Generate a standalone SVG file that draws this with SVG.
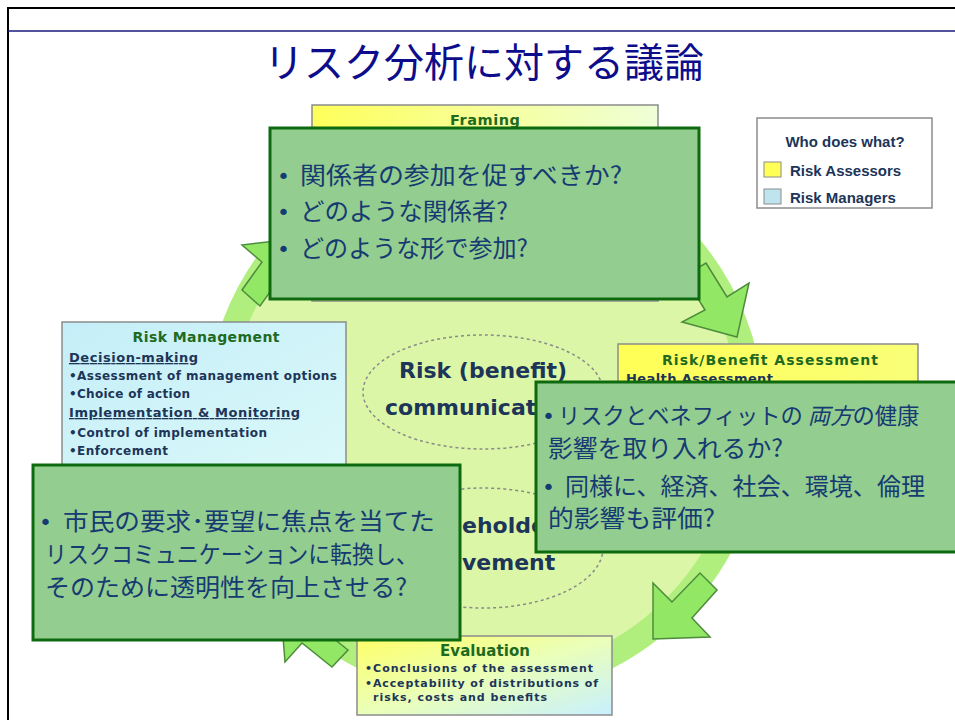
<svg xmlns="http://www.w3.org/2000/svg" width="955" height="720" viewBox="0 0 955 720">
<defs>
<linearGradient id="gFrame" x1="0" y1="0" x2="1" y2="0"><stop offset="0" stop-color="#ffff5a"/><stop offset="1" stop-color="#eeffd8"/></linearGradient>
<linearGradient id="gRBA" x1="0" y1="0" x2="1" y2="0"><stop offset="0" stop-color="#ffff55"/><stop offset="1" stop-color="#f9ff78"/></linearGradient>
<linearGradient id="gEval" x1="0" y1="0" x2="1" y2="1"><stop offset="0" stop-color="#ffff66"/><stop offset="0.5" stop-color="#eaffb8"/><stop offset="1" stop-color="#c8f0ff"/></linearGradient>
<linearGradient id="gRM" x1="0" y1="0" x2="1" y2="1"><stop offset="0" stop-color="#c4eef8"/><stop offset="1" stop-color="#dcf9f9"/></linearGradient>
<style>
.box{stroke:#8c8c8c;stroke-width:1.5}
.q{fill:#93cd8f;stroke:#0e6a0e;stroke-width:3}
.qt{font-family:"Noto Sans CJK JP",sans-serif;font-size:24px;fill:#163a72}
.bu{font-family:"DejaVu Sans",sans-serif;font-size:22px;fill:#163a72}
.hd{font-family:"DejaVu Sans",sans-serif;font-weight:bold;fill:#1e6a1e;text-anchor:middle}
.bt{font-family:"DejaVu Sans",sans-serif;font-weight:bold;fill:#1c3558}
.lg{font-family:"Liberation Sans",Arial,sans-serif;font-weight:bold;font-size:15px;fill:#1c3558}
.arr{fill:#92e865;stroke:#4e8c3c;stroke-width:1.5}
.ell{fill:none;stroke:#8a8a8a;stroke-width:1.5;stroke-dasharray:3 3}
.ct{font-family:"DejaVu Sans",sans-serif;font-weight:bold;font-size:22px;fill:#1c3558}
</style>
</defs>
<rect width="955" height="720" fill="#ffffff"/>
<g id="frame">
<path d="M8 720 V8 H955" fill="none" stroke="#000" stroke-width="2"/>
<path d="M8 31 H955" fill="none" stroke="#1a1a7a" stroke-width="1.5"/>
</g>
<g id="title">
<text x="484" y="77" text-anchor="middle" font-family="Noto Sans CJK JP, sans-serif" font-size="40" fill="#0d0d8c">リスク分析に対する議論</text>
</g>
<g id="ring">
<circle cx="485" cy="419" r="267.5" fill="#dbf6a6" stroke="#b0ef7e" stroke-width="25"/>
</g>
<g id="center">
<ellipse class="ell" cx="483" cy="392" rx="120" ry="57"/>
<ellipse class="ell" cx="483" cy="548" rx="120" ry="60"/>
<text class="ct" x="483" y="378" text-anchor="middle">Risk (benefit)</text>
<text class="ct" x="385" y="415">communicat</text>
<text class="ct" x="462" y="533">eholde</text>
<text class="ct" x="462" y="570">vement</text>
</g>
<g id="connectors">
<polygon class="arr" points="242,290 260,306 280,278 300,295 293,239 242,245 262,262"/>
<polygon class="arr" points="706,263 727,297 749,283 737,337 682,322 705,310 684,276"/>
<polygon class="arr" points="653,583 672,602 700,573 717,590 692,618 710,637 653,639"/>
<polygon class="arr" points="281,611 285,662 302,643 332,667 348,650 318,626 335,607"/>
</g>
<g id="framing">
<rect class="box" x="312" y="105" width="346" height="196" fill="url(#gFrame)"/>
<text class="hd" x="485" y="125" font-size="14.5" textLength="70">Framing</text>
</g>
<g id="risk-management">
<rect class="box" x="62" y="322" width="284" height="160" fill="url(#gRM)"/>
<text class="hd" x="206" y="342" font-size="14" textLength="147">Risk Management</text>
<text class="bt" x="69" y="362" font-size="13" textLength="129" text-decoration="underline">Decision-making</text>
<text class="bt" x="69" y="380" font-size="12" textLength="268">•Assessment of management options</text>
<text class="bt" x="69" y="398" font-size="12" textLength="121">•Choice of action</text>
<text class="bt" x="69" y="417" font-size="13" textLength="231" text-decoration="underline">Implementation &amp; Monitoring</text>
<text class="bt" x="69" y="437" font-size="12" textLength="198">•Control of implementation</text>
<text class="bt" x="69" y="455" font-size="12" textLength="99">•Enforcement</text>
</g>
<g id="risk-assessment">
<rect class="box" x="618" y="344" width="300" height="60" fill="url(#gRBA)"/>
<text class="hd" x="770" y="365" font-size="14" textLength="216">Risk/Benefit Assessment</text>
<text class="bt" x="626" y="383" font-size="13" textLength="147">Health Assessment</text>
</g>
<g id="evaluation">
<rect class="box" x="357" y="636" width="255" height="79" fill="url(#gEval)"/>
<text class="hd" x="485" y="656" font-size="15" textLength="90">Evaluation</text>
<text class="bt" x="365" y="672" font-size="11" textLength="228">•Conclusions of the assessment</text>
<text class="bt" x="365" y="687" font-size="11" textLength="233">•Acceptability of distributions of</text>
<text class="bt" x="373" y="701" font-size="11" textLength="174">risks, costs and benefits</text>
</g>
<g id="legend">
<rect x="757" y="118" width="175" height="90" fill="#ffffff" stroke="#8c8c8c" stroke-width="1.5"/>
<text class="lg" x="845" y="147" text-anchor="middle">Who does what?</text>
<rect x="764" y="162" width="17" height="15" fill="#ffff55" stroke="#8c8c8c"/>
<text class="lg" x="790" y="176">Risk Assessors</text>
<rect x="764" y="189" width="17" height="15" fill="#bfe4ee" stroke="#8c8c8c"/>
<text class="lg" x="790" y="203">Risk Managers</text>
</g>
<g id="q-framing">
<rect class="q" x="270" y="128" width="429" height="171"/>
<text class="bu" x="277" y="184">•</text>
<text class="qt" x="300" y="184" textLength="322" lengthAdjust="spacingAndGlyphs">関係者の参加を促すべきか?</text>
<text class="bu" x="277" y="220">•</text>
<text class="qt" x="300" y="220" textLength="208" lengthAdjust="spacingAndGlyphs">どのような関係者?</text>
<text class="bu" x="277" y="257">•</text>
<text class="qt" x="300" y="257" textLength="228" lengthAdjust="spacingAndGlyphs">どのような形で参加?</text>
</g>
<g id="q-assessment">
<rect class="q" x="536" y="382" width="425" height="170"/>
<text class="bu" x="542" y="424">•</text>
<text class="qt" x="558" y="424" style="font-size:22.3px">リスクとベネフィットの <tspan font-style="italic">両方</tspan>の健康</text>
<text class="qt" x="548" y="457" textLength="235" lengthAdjust="spacingAndGlyphs">影響を取り入れるか?</text>
<text class="bu" x="542" y="495">•</text>
<text class="qt" x="565" y="495" textLength="360" lengthAdjust="spacingAndGlyphs">同様に、経済、社会、環境、倫理</text>
<text class="qt" x="548" y="527" textLength="167" lengthAdjust="spacingAndGlyphs">的影響も評価?</text>
</g>
<g id="q-management">
<rect class="q" x="33" y="465" width="427" height="175"/>
<text class="bu" x="39" y="530">•</text>
<text class="qt" x="63" y="530" textLength="372" lengthAdjust="spacingAndGlyphs">市民の要求･要望に焦点を当てた</text>
<text class="qt" x="45" y="563" textLength="373" lengthAdjust="spacingAndGlyphs">リスクコミュニケーションに転換し、</text>
<text class="qt" x="45" y="596" textLength="362" lengthAdjust="spacingAndGlyphs">そのために透明性を向上させる?</text>
</g>
</svg>
